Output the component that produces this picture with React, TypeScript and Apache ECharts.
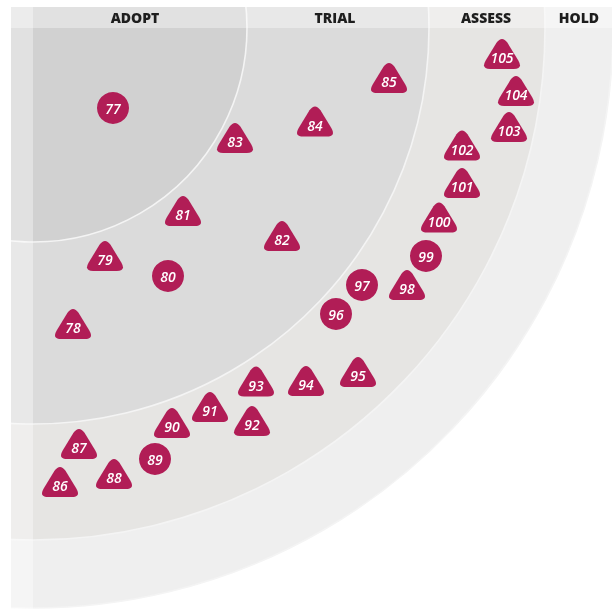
import React, { useEffect, useRef } from "react";
import * as echarts from "echarts";

// Rings of the radar quadrant (inner to outer)
const RING_NAMES = ["ADOPT", "TRIAL", "ASSESS", "HOLD"];
const RING_RADII = [214, 396, 512, 580];
const RING_COLORS = ["#d1d1d1", "#dbdbdb", "#e6e5e3", "#efefef"];
const RING_LABEL_X = [135, 335, 486, 579];

// Blips: id, distance right / down from the radar centre, shape (c = circle, t = triangle)
const BLIP_IDS = [77, 78, 79, 80, 81, 82, 83, 84, 85, 86, 87, 88, 89, 90, 91, 92, 93, 94, 95, 96, 97, 98, 99, 100, 101, 102, 103, 104, 105];
const BLIP_X = [80, 40, 72, 135, 150, 249, 202, 282, 356, 27, 46, 81, 122, 139, 177, 219, 223, 273, 325, 303, 329, 374, 393, 406, 429, 429, 476, 483, 469];
const BLIP_Y = [80, 296, 228, 248, 183, 208, 110, 93.5, 50, 454, 416, 446, 431, 395, 379, 393, 353.5, 353, 344, 286, 257, 257, 228, 189.5, 155, 117.5, 99, 63, 26];
const BLIP_SHAPE = ["c", "t", "t", "c", "t", "t", "t", "t", "t", "t", "t", "t", "c", "t", "t", "t", "t", "t", "t", "c", "c", "t", "c", "t", "t", "t", "t", "t", "t"];

const CX = 33;
const CY = 28;
const W = 612;
const H = 609;
const BLIP_COLOR = "#b11d56";
const TRI_PATH =
  "path://M12.6 4.2 Q18 -3.4 23.4 4.2 L34 21.6 Q38.8 30 29.6 30 L6.4 30 Q-2.8 30 2 21.6 Z";

export default function App() {
  const ref = useRef<HTMLDivElement>(null);
  useEffect(() => {
    if (!ref.current) return;
    const chart = echarts.init(ref.current, undefined, { renderer: "svg" });

    const graphics: any[] = [];
    for (let i = RING_RADII.length - 1; i >= 0; i--) {
      graphics.push({
        type: "circle",
        z: 1,
        silent: true,
        shape: { cx: CX, cy: CY, r: RING_RADII[i] },
        style: { fill: RING_COLORS[i], stroke: "#f4f4f4", lineWidth: 1.6 },
      });
    }
    // cut-off outside the quadrant band
    graphics.push({ type: "rect", z: 2, silent: true, shape: { x: 0, y: 0, width: W, height: 7 }, style: { fill: "#fff" } });
    graphics.push({ type: "rect", z: 2, silent: true, shape: { x: 0, y: 0, width: 11, height: H }, style: { fill: "#fff" } });
    // lighter header band and left strip
    graphics.push({ type: "rect", z: 3, silent: true, shape: { x: 11, y: 7, width: W - 11, height: CY - 7 }, style: { fill: "rgba(255,255,255,0.36)" } });
    graphics.push({ type: "rect", z: 3, silent: true, shape: { x: 11, y: 7, width: CX - 11, height: H - 7 }, style: { fill: "rgba(255,255,255,0.36)" } });
    RING_NAMES.forEach((name, i) => {
      graphics.push({
        type: "text",
        z: 4,
        silent: true,
        x: RING_LABEL_X[i],
        y: 17.5,
        style: {
          text: name,
          fill: "#1e1e1e",
          font: "800 14px 'Open Sans'",
          align: "center",
          verticalAlign: "middle",
        },
      });
    });

    const data = BLIP_IDS.map((id, i) => {
      const tri = BLIP_SHAPE[i] === "t";
      return {
        value: [BLIP_X[i], BLIP_Y[i], id],
        symbol: tri ? TRI_PATH : "circle",
        symbolSize: tri ? [36, 30] : 32,
        label: { offset: tri ? [0, 3.5] : [0, 0] },
      };
    });

    chart.setOption({
      animation: false,
      graphic: { elements: graphics },
      grid: { left: CX, top: CY, width: W - CX, height: H - CY, containLabel: false },
      xAxis: { type: "value", min: 0, max: W - CX, show: false },
      yAxis: { type: "value", min: 0, max: H - CY, inverse: true, show: false },
      series: [
        {
          type: "scatter",
          z: 10,
          silent: true,
          data,
          itemStyle: { color: BLIP_COLOR, opacity: 1 },
          label: {
            show: true,
            position: "inside",
            formatter: (p: any) => String(p.value[2]),
            color: "#ffffff",
            fontStyle: "italic",
            fontWeight: 600,
            fontSize: 14,
            fontFamily: "'Open Sans'",
          },
          emphasis: { disabled: true },
        },
      ],
    });
    return () => chart.dispose();
  }, []);
  return (
    <div
      ref={ref}
      style={{ position: "fixed", left: 0, top: 0, width: W, height: H }}
    />
  );
}
